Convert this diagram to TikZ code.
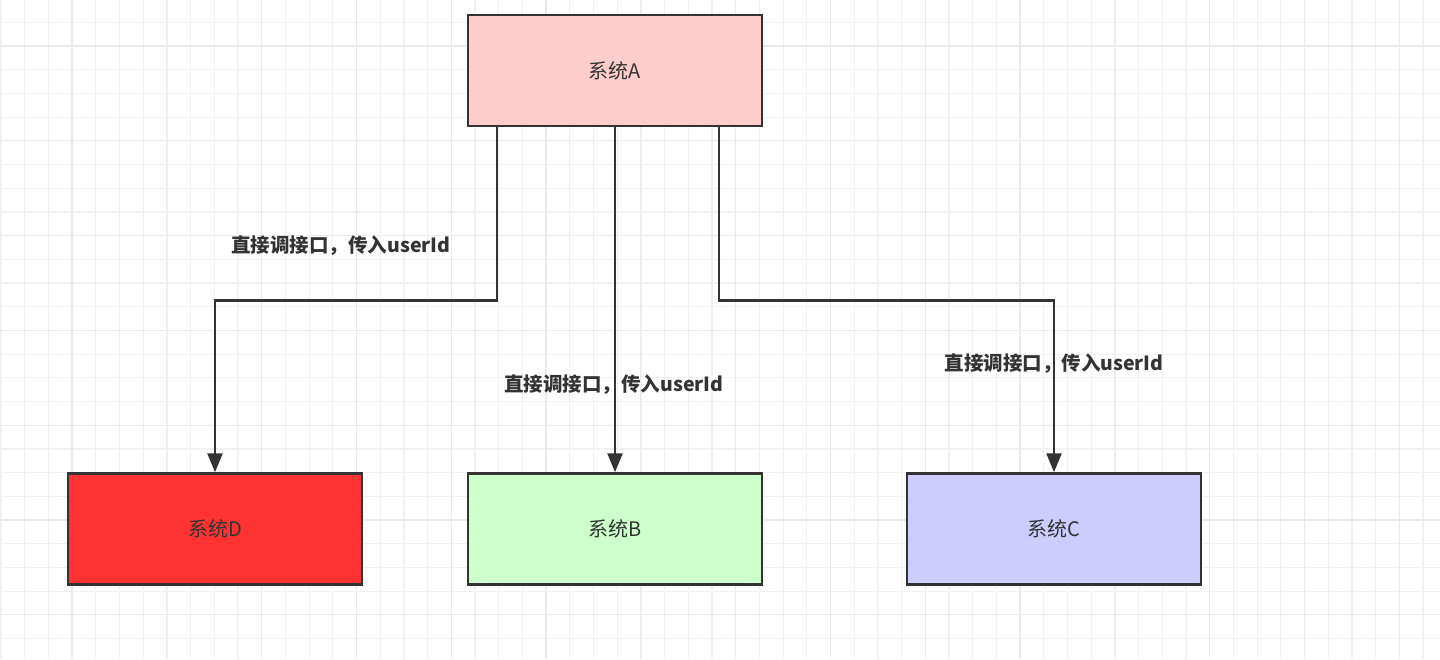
\documentclass[tikz,border=0pt]{standalone}
\usepackage{fontspec}
\setmainfont{Noto Sans CJK SC}
\usetikzlibrary{arrows.meta,positioning}
\definecolor{linegray}{HTML}{333333}
\definecolor{gridminor}{HTML}{F1F1F1}
\definecolor{gridmajor}{HTML}{EAEAEA}
\definecolor{fillA}{HTML}{FFCCCC}
\definecolor{fillB}{HTML}{CCFFCC}
\definecolor{fillC}{HTML}{CCCCFF}
\definecolor{fillD}{HTML}{FF3333}
\tikzset{
  sysbox/.style={draw=linegray,line width=2.5pt,minimum width=294pt,minimum height=111pt,
    inner sep=0pt,text=linegray,font=\fontsize{20}{22}\selectfont},
  calllabel/.style={text=linegray,font=\fontsize{19.5}{22}\selectfont\bfseries},
  callarrow/.style={draw=linegray,line width=2.5pt,-{Triangle[width=15pt,length=19pt]}}
}
\begin{document}
\begin{tikzpicture}[x=1pt,y=-1pt]
\pgfmathsetmacro{\gstep}{23.7}
\useasboundingbox (0,0) rectangle (1440,659);
\fill[white] (0,0) rectangle (1440,659);
  % grid
  \foreach \i in {0,...,61} \draw[gridminor,line width=1.2pt] ({1+\i*\gstep},0) -- ({1+\i*\gstep},659);
  \foreach \i in {-1,...,28} \draw[gridminor,line width=1.2pt] (0,{-1.4+\i*\gstep}) -- (1440,{-1.4+\i*\gstep});
  \foreach \i in {0,...,14} \draw[gridmajor,line width=1.3pt] ({72+\i*4*\gstep},0) -- ({72+\i*4*\gstep},659);
  \foreach \i in {0,...,6} \draw[gridmajor,line width=1.3pt] (0,{46+\i*4*\gstep}) -- (1440,{46+\i*4*\gstep});
  % systems
  \node[sysbox,fill=fillA] (sysA) at (615,70.5) {系统A};
  \node[sysbox,fill=fillD] (sysD) at (215,529) {系统D};
  \node[sysbox,fill=fillB] (sysB) at (615,529) {系统B};
  \node[sysbox,fill=fillC] (sysC) at (1054,529) {系统C};
  % calls
  \draw[callarrow] ([xshift=-118]sysA.south) -- ++(0,173) -| (sysD.north);
  \draw[callarrow] (sysA.south) -- (sysB.north);
  \draw[callarrow] ([xshift=104]sysA.south) -- ++(0,173) -| (sysC.north);
  \node[calllabel] (lblD) at (341,246) {直接调接口，传入userId};
  \node[calllabel] (lblB) at (614,385) {直接调接口，传入userId};
  \node[calllabel] (lblC) at (1054,364) {直接调接口，传入userId};
\end{tikzpicture}
\end{document}
